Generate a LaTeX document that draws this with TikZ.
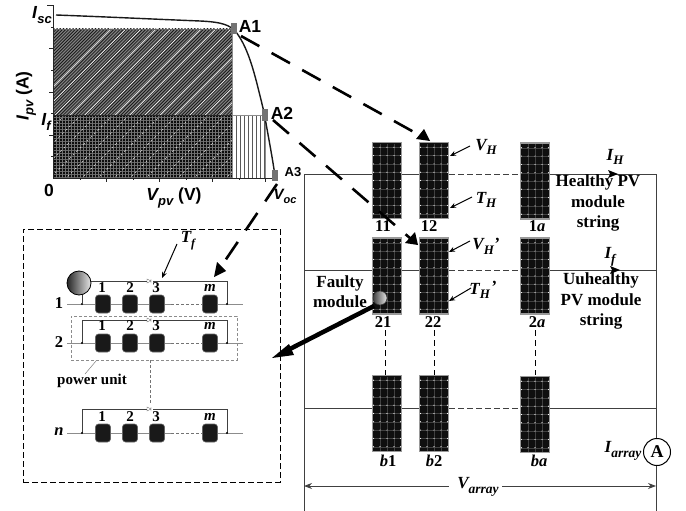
\documentclass[tikz,border=0pt]{standalone}
\usepackage{fontspec}
\setmainfont{Liberation Serif}
\setsansfont{Liberation Sans}
\usetikzlibrary{arrows.meta,calc}
\newcommand{\subx}[2]{\raisebox{-.28em}{\fontsize{#1}{#1}\selectfont #2}}
\tikzset{
 wire/.style={line width=0.9pt,black!75},
 gwire/.style={line width=0.9pt,black!45},
 gdash/.style={line width=0.8pt,black!55,dash pattern=on 3pt off 2pt},
 bigdash/.style={line width=2.6pt,black,dash pattern=on 21pt off 14pt},
 thin arrow/.style={line width=1pt,-{Stealth[length=6pt,width=5pt]}},
 lab/.style={font=\bfseries\fontsize{16.5}{16.5}\selectfont,inner sep=0pt},
 ilab/.style={font=\bfseries\itshape\fontsize{16.5}{16.5}\selectfont,inner sep=0pt},
 sml/.style={font=\bfseries\fontsize{15}{15}\selectfont,inner sep=0pt},
 plab/.style={font=\sffamily\bfseries\fontsize{17.5}{17.5}\selectfont,inner sep=0pt},
 pilab/.style={font=\sffamily\bfseries\itshape\fontsize{17.5}{17.5}\selectfont,inner sep=0pt},
 mark box/.style={fill=black!55,draw=none,minimum width=6pt,minimum height=11pt,inner sep=0pt},
 pvbox/.style={fill=black!94,draw=black!40,line width=1.3pt,minimum width=29pt,minimum height=76pt,inner sep=0pt},
 cell/.style={fill=black!90,draw=black!60,line width=0.6pt,rounded corners=3pt,minimum width=15pt,minimum height=18pt,inner sep=0pt},
}
\newcommand{\pvpanel}[3]{%
 \node[pvbox] (#1) at (#2,#3) {};
 \foreach \ix in {-7,0,7} \draw[black!75,line width=0.3pt] (#2+\ix,#3-37) -- (#2+\ix,#3+37);
 \foreach \iy in {-4,...,4} \draw[black!75,line width=0.3pt] (#2-14,#3+\iy*8.3) -- (#2+14,#3+\iy*8.3);
 \foreach \ix in {-13.5,-7,0,7,13.5} \foreach \iy in {-4,...,4}
  \fill[white] (#2+\ix,#3+\iy*8.3) circle (0.6pt);
}
\newcommand{\stringrow}[4]{% row key, wire y, top y, label y
 \draw[gwire] (67,#2) -- (171,#2);
 \draw[gdash] (171,#2) -- (203,#2);
 \draw[gwire] (217,#2) -- (243,#2);
 \draw[wire] (82,#2) -- (82,#3) -- (227,#3) -- (227,#2);
 \fill (82,#2) circle (1.2pt); \fill (227,#2) circle (1.2pt);
 \node[cell] (c1#1) at (103,#2) {};
 \node[cell] (c2#1) at (130,#2) {};
 \node[cell] (c3#1) at (157,#2) {};
 \node[cell] (c4#1) at (210,#2) {};
 \node[sml] (n1#1) at (102,#4) {1};
 \node[sml] (n2#1) at (130,#4) {2};
 \node[sml] (n3#1) at (156,#4) {3};
 \node[sml,font=\bfseries\itshape\fontsize{15}{15}\selectfont] (n4#1) at (210,#4) {m};
 \node[fill=white,minimum width=6pt,minimum height=4pt,inner sep=0pt] (d#1) at (150,#3) {};
 \draw[black!60,line width=0.4pt] (147,#3-2) -- (147,#3+2) -- (151,#3) -- cycle (151,#3-2) -- (151,#3+2);
}
\begin{document}
\begin{tikzpicture}[x=1pt,y=-1pt]
\useasboundingbox (0,0) rectangle (686,511);
\fill[white] (0,0) rectangle (686,511);

% ---- plot: shaded regions
\begin{scope}
 \clip (53,29) rectangle (232,115);
 \fill[black!50] (53,29) rectangle (232,115);
 \foreach \k in {0,1,...,90} \draw[black!90,line width=0.8pt] (-60+\k*3.2,120) -- +(100,-100);
 \foreach \k in {0,1,...,17} \draw[white,line width=0.7pt] (20+\k*15,120) -- +(100,-100);
\end{scope}
\begin{scope}
 \clip (53,115) rectangle (232,178);
 \fill[black!60] (53,115) rectangle (232,178);
 \foreach \k in {0,1,...,21} \draw[black!95,line width=1.1pt] (53,116+\k*3) -- (232,116+\k*3);
 \foreach \k in {0,1,...,60} \draw[black!55,line width=0.8pt] (53+\k*3,115) -- (53+\k*3,178);
 \foreach \k in {0,1,...,22} \draw[white!85!black,line width=0.7pt,dash pattern=on 2pt off 3pt] (0+\k*16,180) -- +(100,-100);
\end{scope}
\begin{scope}
 \clip (232,115) rectangle (265,178);
 \foreach \k in {0,1,...,7} \draw[black!65,line width=0.9pt] (236+\k*4,115) -- (236+\k*4,178);
\end{scope}
\draw[black!45,line width=0.8pt] (232,29) -- (232,178) (232,115) rectangle (265,178);
\draw[black!60,line width=0.7pt] (53,29) -- (232,29);
\draw[black!85,line width=0.8pt] (53,115) -- (232,115);

% axes
\draw[black!85,line width=1pt] (47,6) -- (53,6) -- (53,178) -- (275,178);
\foreach \yy in {48,92,135} \draw[black!85,line width=0.8pt] (49,\yy) -- (53,\yy);
\foreach \yy in {27,70,113,156} \draw[black!85,line width=0.6pt] (51,\yy) -- (53,\yy);
\foreach \xx in {106,159,212,265} \draw[black!85,line width=0.8pt] (\xx,178) -- (\xx,182);
\foreach \xx in {80,133,186,239} \draw[black!85,line width=0.6pt] (\xx,178) -- (\xx,180);

% curve
\draw[line width=1.4pt,black!90] (56,15) .. controls (110,17) and (150,19) .. (200,21)
  .. controls (222,22) and (230,25) .. (236,32)
  .. controls (250,50) and (256,80) .. (264,112)
  .. controls (268,135) and (272,155) .. (275,176);
\node[mark box] (A1m) at (234,29) {};
\node[mark box] (A2m) at (265,115) {};
\node[mark box] (A3m) at (275,175) {};

% plot labels
\node[plab] (A1) at (250,26) {A1};
\node[plab] (A2) at (282,113) {A2};
\node[plab,font=\sffamily\bfseries\fontsize{13}{13}\selectfont] (A3) at (293,172) {A3};
\node[plab] (zero) at (49,190) {0};
\node[pilab] (isc) at (42,15) {I\kern.5pt\subx{13}{sc}};
\node[pilab] (ifl) at (46,122) {I\subx{13}{f}};
\node[pilab,rotate=90] (ipv) at (26,96) {I\subx{13}{pv}\upshape\ (A)};
\node[pilab] (vpv) at (174,198) {V\subx{13}{pv}\upshape\ (V)};
\node[pilab,font=\sffamily\bfseries\itshape\fontsize{15}{15}\selectfont] (voc) at (285,196) {V\subx{11}{oc}};

% ---- left detail box
\node[draw=black,line width=1pt,dash pattern=on 6pt off 3pt,minimum width=257pt,minimum height=253pt,inner sep=0pt] (detail) at (151.5,355.5) {};
\stringrow{a}{304}{281}{288}
\stringrow{b}{343}{320}{326}
\stringrow{c}{433}{409}{417}
\draw[wire] (82,295) -- (82,304);
\node[lab] (r1) at (59,303) {1};
\node[lab] (r2) at (59,342) {2};
\node[ilab] (rn) at (59,432) {n};
\node[draw=black!45,line width=0.7pt,dash pattern=on 3pt off 2pt,minimum width=166pt,minimum height=44pt,inner sep=0pt] (unit) at (154,338) {};
\coordinate (uvs) at (150,360); \coordinate (uve) at (150,403);
\draw[gdash] (uvs) -- (uve);
\node[font=\bfseries\fontsize{15}{15}\selectfont,inner sep=0pt] (pu) at (92,381) {power unit};
\coordinate (pua) at (96,361); \coordinate (pub) at (85,374);
\draw[black!50,line width=0.5pt] (pua) -- (pub);
\node[draw=black,line width=0.8pt,circle,minimum size=24pt,inner sep=0pt,left color=black!85,right color=black!10] (fault1) at (79,283) {};
\node[ilab,font=\bfseries\itshape\fontsize{17}{17}\selectfont] (tf) at (188,241) {T\subx{12}{f}};
\coordinate (tfa) at (177,244); \coordinate (tfb) at (162,278);
\draw[thin arrow] (tfa) -- (tfb);

% ---- right array
\coordinate (LT) at (304,174); \coordinate (LB) at (304,511);
\coordinate (RT) at (656,174); \coordinate (RB) at (656,511);
\draw[wire] (LB) -- (LT) -- (449,174);
\draw[wire] (550,174) -- (RT) -- (RB);
\foreach \yy in {270,408} {
 \draw[wire] (304,\yy) -- (449,\yy);
 \draw[wire] (550,\yy) -- (656,\yy);
}
\foreach \yy in {174,270,408} \draw[wire,dash pattern=on 6pt off 3pt] (449,\yy) -- (520,\yy);
\foreach \xx in {385,434,535} \draw[black,line width=0.8pt,dash pattern=on 6pt off 4pt] (\xx,330) -- (\xx,375);

\pvpanel{p11}{387}{180.5}
\pvpanel{p12}{434}{180.5}
\pvpanel{p1a}{535}{181}
\pvpanel{p21}{387}{276}
\pvpanel{p22}{434}{276}
\pvpanel{p2a}{535}{276}
\pvpanel{pb1}{387}{413.5}
\pvpanel{pb2}{434}{413.5}
\pvpanel{pba}{535}{414.5}

\node[lab] (l11) at (383,226) {11};
\node[lab] (l12) at (429,226) {12};
\node[lab] (l1a) at (537,226) {1\textit{a}};
\node[lab] (l21) at (383,322) {21};
\node[lab] (l22) at (433,322) {22};
\node[lab] (l2a) at (537,322) {2\textit{a}};
\node[lab] (lb1) at (388,461) {\textit{b}1};
\node[lab] (lb2) at (434,461) {\textit{b}2};
\node[lab] (lba) at (539,461) {\textit{ba}};

\node[ilab,font=\bfseries\itshape\fontsize{17}{17}\selectfont] (vh) at (486,147) {V\subx{13}{H}};
\node[ilab,font=\bfseries\itshape\fontsize{17}{17}\selectfont] (th) at (486,200) {T\subx{13}{H}};
\node[ilab,font=\bfseries\itshape\fontsize{17}{17}\selectfont] (vhp) at (486,246) {V\subx{13}{H}'};
\node[ilab,font=\bfseries\itshape\fontsize{17}{17}\selectfont] (thp) at (483,290) {T\subx{13}{H}\kern1pt\raisebox{.1em}{'}};
\draw[thin arrow] (470,146) -- (450,156);
\draw[thin arrow] (472,197) -- (450,208);
\draw[thin arrow] (470,241) -- (449,252);
\draw[thin arrow] (471,288) -- (449,301);

\node[ilab,font=\bfseries\itshape\fontsize{17}{17}\selectfont] (ih) at (615,157) {I\subx{13}{H}};
\node[ilab,font=\bfseries\itshape\fontsize{17}{17}\selectfont] (if) at (610,257) {I\subx{13}{f}};
\fill (618,174) -- (608,170) -- (610,174) -- (608,178) -- cycle;
\fill (620,270) -- (610,266) -- (612,270) -- (610,274) -- cycle;

\node[lab,align=center,font=\bfseries\fontsize{17}{20.5}\selectfont] (hl) at (598,203) {Healthy PV\\module\\string};
\node[lab,align=center,font=\bfseries\fontsize{17}{20.5}\selectfont] (ul) at (601,301) {Uuhealthy\\PV module\\string};
\node[lab,align=center,font=\bfseries\fontsize{17}{20}\selectfont] (fm) at (340,292) {Faulty\\module};

\node[circle,draw=black!80,line width=0.5pt,minimum size=14pt,inner sep=0pt,left color=black!75,right color=black!10] (fault2) at (380,298) {};

% A meter + V array
\node[circle,draw=black,fill=white,line width=1pt,minimum size=27pt,inner sep=0pt,font=\bfseries\fontsize{18}{18}\selectfont] (amm) at (657,452) {A};
\node[ilab,font=\bfseries\itshape\fontsize{17}{17}\selectfont] (ia) at (623,451) {I\subx{13.5}{array}};
\node[ilab,font=\bfseries\itshape\fontsize{17}{17}\selectfont] (va) at (478,487) {V\subx{13.5}{array}};
\coordinate (val) at (304,486); \coordinate (var) at (656,486);
\draw[wire,{Stealth[length=8pt,width=6pt]}-] (val) -- (449,486);
\draw[wire,-{Stealth[length=8pt,width=6pt]}] (502,486) -- (var);

% big dashed connectors
\coordinate (s1) at (241,36); \coordinate (e1) at (430,141);
\coordinate (s2) at (273,120); \coordinate (e2) at (418,245);
\coordinate (s3) at (277,184); \coordinate (e3) at (214,277);
\draw[bigdash] (s1) -- ($(s1)!0.94!(e1)$);
\draw[bigdash] (s2) -- ($(s2)!0.95!(e2)$);
\draw[bigdash] (s3) -- ($(s3)!0.9!(e3)$);
\fill (e1) -- +(-14,-2) -- +(-6,-12) -- cycle;
\fill (e2) -- +(-13,-2) -- +(-3,-13) -- cycle;
\fill (e3) -- +(3,-15) -- +(12,-6) -- cycle;
\coordinate (s4) at (374,306); \coordinate (e4) at (272,358);
\draw[line width=4.5pt] (s4) -- (284,352);
\fill (e4) -- +(17,-14) -- +(22,-3) -- cycle;
\end{tikzpicture}
\end{document}
